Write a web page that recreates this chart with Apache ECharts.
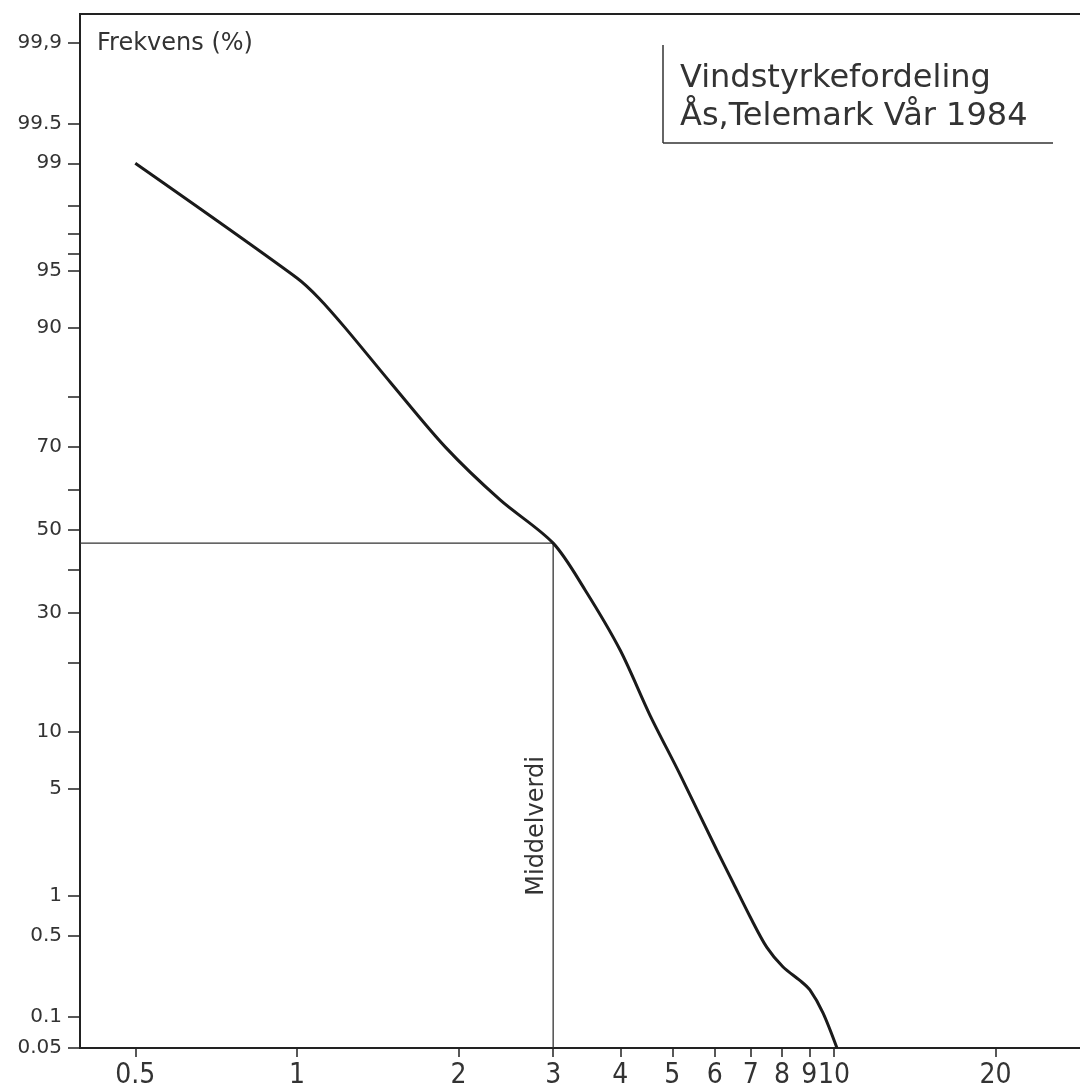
<!DOCTYPE html>
<html>
<head>
<meta charset="utf-8">
<title>Vindstyrkefordeling</title>
<script src="https://cdn.jsdelivr.net/npm/echarts@6/dist/echarts.min.js"></script>
<style>
  html, body { margin: 0; padding: 0; background: #ffffff; }
  #chart { width: 1080px; height: 1087px; }
</style>
</head>
<body>
<div id="chart"></div>
<script>
// Wind speed (m/s) and cumulative frequency (%)
const windSpeed    = [0.5, 1.0, 1.1, 1.23, 1.5, 1.89, 2.39, 3.0, 3.44, 4.0, 4.54, 5.17, 6.05, 6.49, 6.98, 7.5, 8.04, 8.65, 9.02, 9.54, 10.13];
const frequencyPct = [99, 94.5, 92.9, 90, 82.3, 70, 57.5, 46.6, 35.1, 22.2, 12, 6, 2.1, 1.25, 0.7, 0.4, 0.275, 0.21, 0.174, 0.108, 0.05];

// Mean value marker
const meanSpeed = 3.0;
const meanPct = 46.6;

// Axis ticks
const speedTicks = [0.5, 1, 2, 3, 4, 5, 6, 7, 8, 9, 10, 20];
const speedTickLabels = ['0.5', '1', '2', '3', '4', '5', '6', '7', '8', '9', '10', '20'];
const pctTicks = [99.9, 99.5, 99, 95, 90, 70, 50, 30, 10, 5, 1, 0.5, 0.1, 0.05];
const pctTickLabels = ['99,9', '99.5', '99', '95', '90', '70', '50', '30', '10', '5', '1', '0.5', '0.1', '0.05'];
const pctMinorTicks = [98, 97, 96, 80, 60, 40, 20];

// Axis ranges
const speedMin = 0.3945, speedMax = 31.29;
const pctMin = 0.05, pctMax = 99.947;

// Inverse standard normal CDF (probability paper scale)
function probit(pct) {
  const p = pct / 100;
  const a = [-3.969683028665376e+01, 2.209460984245205e+02, -2.759285104469687e+02, 1.383577518672690e+02, -3.066479806614716e+01, 2.506628277459239e+00];
  const b = [-5.447609879822406e+01, 1.615858368580409e+02, -1.556989798598866e+02, 6.680131188771972e+01, -1.328068155288572e+01];
  const c = [-7.784894002430293e-03, -3.223964580411365e-01, -2.400758277161838e+00, -2.549732539343734e+00, 4.374664141464968e+00, 2.938163982698783e+00];
  const d = [7.784695709041462e-03, 3.224671290700398e-01, 2.445134137142996e+00, 3.754408661907416e+00];
  const pl = 0.02425, ph = 1 - pl;
  let q, r;
  if (p < pl) {
    q = Math.sqrt(-2 * Math.log(p));
    return (((((c[0]*q+c[1])*q+c[2])*q+c[3])*q+c[4])*q+c[5]) / ((((d[0]*q+d[1])*q+d[2])*q+d[3])*q+1);
  }
  if (p <= ph) {
    q = p - 0.5; r = q * q;
    return (((((a[0]*r+a[1])*r+a[2])*r+a[3])*r+a[4])*r+a[5])*q / (((((b[0]*r+b[1])*r+b[2])*r+b[3])*r+b[4])*r+1);
  }
  q = Math.sqrt(-2 * Math.log(1 - p));
  return -(((((c[0]*q+c[1])*q+c[2])*q+c[3])*q+c[4])*q+c[5]) / ((((d[0]*q+d[1])*q+d[2])*q+d[3])*q+1);
}
const lg = v => Math.log10(v);
const key = v => v.toFixed(5);

const xLabelMap = {};
speedTicks.forEach((t, i) => { xLabelMap[key(lg(t))] = speedTickLabels[i]; });
const yLabelMap = {};
pctTicks.forEach((t, i) => { yLabelMap[key(probit(t))] = pctTickLabels[i]; });

const curveData = windSpeed.map((v, i) => [lg(v), probit(frequencyPct[i])]);
const meanGuide = [
  [lg(speedMin), probit(meanPct)],
  [lg(meanSpeed), probit(meanPct)],
  [lg(meanSpeed), probit(pctMin)]
];

const ink = '#222';
const textInk = '#333';
const chart = echarts.init(document.getElementById('chart'), null, { renderer: 'canvas' });

chart.setOption({
  backgroundColor: '#ffffff',
  animation: false,
  grid: {
    left: 80, top: 14, bottom: 39, right: -20,
    outerBoundsMode: 'none', containLabel: false,
    show: true, borderColor: ink, borderWidth: 2, backgroundColor: 'transparent'
  },
  xAxis: {
    type: 'value',
    min: lg(speedMin), max: lg(speedMax),
    axisLine: { show: true, onZero: false, lineStyle: { color: ink, width: 2 } },
    axisTick: { show: true, length: 9, customValues: speedTicks.map(lg), lineStyle: { color: ink, width: 1.5 } },
    axisLabel: {
      show: true, customValues: speedTicks.map(lg), margin: 14,
      formatter: v => xLabelMap[key(v)] || '',
      color: textInk, fontSize: 28,
      fontFamily: '"Liberation Sans Narrow", "DejaVu Sans Condensed", "Liberation Sans", sans-serif'
    },
    splitLine: { show: false }
  },
  yAxis: {
    type: 'value',
    min: probit(pctMin), max: probit(pctMax),
    axisLine: { show: true, onZero: false, lineStyle: { color: ink, width: 2 } },
    axisTick: { show: true, length: 12, customValues: pctTicks.concat(pctMinorTicks).map(probit), lineStyle: { color: ink, width: 1.5 } },
    axisLabel: {
      show: true, customValues: pctTicks.map(probit), margin: 18,
      formatter: v => yLabelMap[key(v)] || '',
      color: textInk, fontSize: 20,
      fontFamily: '"DejaVu Sans", sans-serif'
    },
    splitLine: { show: false }
  },
  series: [
    {
      name: 'Middelverdi',
      type: 'line',
      data: meanGuide,
      symbol: 'none',
      lineStyle: { color: '#333', width: 1.3 },
      z: 2
    },
    {
      name: 'Vindstyrkefordeling',
      type: 'line',
      data: curveData,
      smooth: 0.3,
      symbol: 'none',
      lineStyle: { color: '#1a1a1a', width: 3 },
      z: 3
    }
  ]
});

// Annotations: axis title, framed heading and the rotated mean label
const labelPct = 3;
const anchor = chart.convertToPixel({ gridIndex: 0 }, [lg(meanSpeed), probit(labelPct)]);
chart.setOption({
  graphic: [
    {
      id: 'yTitle', type: 'text', x: 97, y: 44,
      style: { text: 'Frekvens (%)', font: '24px "DejaVu Sans", sans-serif', fill: textInk, verticalAlign: 'middle' }
    },
    {
      id: 'heading', type: 'group', x: 663, y: 45,
      children: [
        { type: 'line', shape: { x1: 0, y1: 0, x2: 0, y2: 98 }, style: { stroke: '#333', lineWidth: 1.5 } },
        { type: 'line', shape: { x1: 0, y1: 98, x2: 390, y2: 98 }, style: { stroke: '#333', lineWidth: 1.5 } },
        { type: 'text', x: 17, y: 34, style: { text: 'Vindstyrkefordeling', font: '32px "DejaVu Sans", sans-serif', fill: textInk, verticalAlign: 'middle' } },
        { type: 'text', x: 17, y: 72, style: { text: 'Ås,Telemark Vår 1984', font: '32px "DejaVu Sans", sans-serif', fill: textInk, verticalAlign: 'middle' } }
      ]
    },
    {
      id: 'meanLabel', type: 'text', x: anchor[0] - 4, y: anchor[1], rotation: Math.PI / 2,
      style: { text: 'Middelverdi', font: '24px "DejaVu Sans", sans-serif', fill: textInk, align: 'center', verticalAlign: 'bottom' }
    }
  ]
});
</script>
</body>
</html>
